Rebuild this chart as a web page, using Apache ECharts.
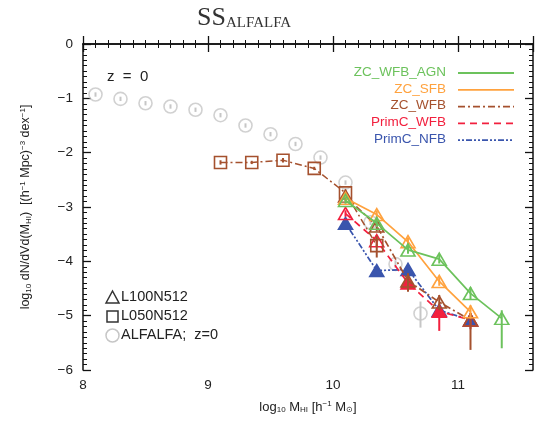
<!DOCTYPE html>
<html>
<head>
<meta charset="utf-8">
<script src="https://cdn.jsdelivr.net/npm/echarts@6/dist/echarts.min.js"></script>
<style>
  html, body { margin: 0; padding: 0; background: #fff; }
  #chart { width: 539px; height: 423px; }
</style>
</head>
<body>
<div id="chart"></div>
<script>
// HI mass function at z = 0: simulations vs. ALFALFA
const xTicks = [8, 9, 10, 11];
const yTicks = [0, -1, -2, -3, -4, -5, -6];

// ALFALFA observed points [log M, log phi, err low, err high]
const alfalfaX = [8.1, 8.3, 8.5, 8.7, 8.9, 9.1, 9.3, 9.5, 9.7, 9.9, 10.1, 10.3, 10.5, 10.7];
const alfalfaY = [-0.93, -1.01, -1.09, -1.15, -1.21, -1.31, -1.50, -1.66, -1.84, -2.09, -2.55, -3.28, -4.05, -4.96];
const alfalfaLo = [-0.97, -1.05, -1.13, -1.19, -1.25, -1.35, -1.54, -1.70, -1.88, -2.13, -2.59, -3.33, -4.12, -5.22];
const alfalfaHi = [-0.89, -0.97, -1.05, -1.11, -1.17, -1.27, -1.46, -1.62, -1.80, -2.05, -2.51, -3.23, -3.98, -4.74];

// L050N512 (ZC_WFB) squares
const sqX = [9.1, 9.35, 9.6, 9.85, 10.1, 10.35];
const sqY = [-2.18, -2.18, -2.14, -2.29, -2.74, -3.71];
const sqLo = [-2.22, -2.21, -2.18, -2.32, -2.80, -3.93];
const sqHi = [-2.14, -2.15, -2.10, -2.26, -2.68, -3.53];

// L100N512 runs (triangles)
const triX = [10.1, 10.35, 10.6, 10.85, 11.1, 11.35];
const greenY = [-2.88, -3.30, -3.79, -3.96, -4.59, -5.05];
const greenLo = [-2.94, -3.37, -3.86, -4.04, -4.70, -5.60];
const greenHi = [-2.82, -3.23, -3.72, -3.88, -4.48, -4.90];
const orangeY = [-2.84, -3.14, -3.64, -4.37, -4.93];
const orangeLo = [-2.90, -3.21, -3.71, -4.45, -5.05];
const orangeHi = [-2.78, -3.07, -3.57, -4.29, -4.81];
const brownY = [-2.80, -3.35, -4.36, -4.75, -5.08];
const brownLo = [-2.88, -3.45, -4.56, -4.90, -5.63];
const brownHi = [-2.72, -3.25, -4.22, -4.62, -4.95];
const redY = [-3.12, -3.62, -4.40, -4.92, -5.08];
const redLo = [-3.18, -3.72, -4.50, -5.28, -5.25];
const redHi = [-3.06, -3.52, -4.30, -4.80, -4.95];
const redFilled = [false, false, true, true, false];
const blueY = [-3.30, -4.17, -4.15, -4.90, -5.08];
const blueLo = [-3.36, -4.26, -4.24, -5.00, -5.18];
const blueHi = [-3.24, -4.08, -4.06, -4.80, -4.98];
const blueFilled = [true, true, true, true, true];

const legendNames = ['ZC_WFB_AGN', 'ZC_SFB', 'ZC_WFB', 'PrimC_WFB', 'PrimC_NFB'];

const C = {
  green: '#6cc25c',
  orange: '#ffa23e',
  brown: '#a5512e',
  red: '#f2203e',
  blue: '#3a55ad',
  gray: '#c6c6c6'
};
const STYLES = {
  green: 'solid',
  orange: 'solid',
  brown: [7, 3, 2, 3],
  red: [7, 5],
  blue: [2, 2, 2, 2, 6, 2]
};

const TRI = 'path://M0,10 L5,0 L10,10 Z';
const FONT = '"Liberation Sans", Arial, sans-serif';

function pairs(xs, ys) { return ys.map((y, i) => [xs[i], y]); }
function bars(xs, lo, hi) { return lo.map((l, i) => [xs[i], l, hi[i]]); }

function errSeries(data, color, z) {
  return {
    type: 'custom',
    z: z,
    silent: true,
    data: data,
    renderItem: function (params, api) {
      const p1 = api.coord([api.value(0), api.value(1)]);
      const p2 = api.coord([api.value(0), api.value(2)]);
      return {
        type: 'line',
        shape: { x1: p1[0], y1: p1[1], x2: p2[0], y2: p2[1] },
        style: { stroke: color, lineWidth: 2 }
      };
    }
  };
}

function triSeries(name, ys, key, filled, z) {
  const color = C[key];
  return {
    name: name,
    type: 'line',
    z: z,
    data: ys.map((y, i) => ({
      value: [triX[i], y],
      itemStyle: {
        color: filled && filled[i] ? color : 'rgba(255,255,255,0)',
        borderColor: color,
        borderWidth: 1.6
      }
    })),
    symbol: TRI,
    symbolSize: [14, 12],
    lineStyle: { color: color, width: 1.7, type: STYLES[key] },
    emphasis: { disabled: true }
  };
}

const series = [
  // ALFALFA
  errSeries(bars(alfalfaX, alfalfaLo, alfalfaHi), C.gray, 1),
  {
    name: 'ALFALFA',
    type: 'scatter',
    z: 2,
    data: pairs(alfalfaX, alfalfaY),
    symbol: 'circle',
    symbolSize: 13,
    itemStyle: { color: 'rgba(255,255,255,0)', borderColor: C.gray, borderWidth: 1.6 }
  },
  errSeries(bars(triX, blueLo, blueHi), C.blue, 3),
  triSeries('PrimC_NFB', blueY, 'blue', blueFilled, 4),
  errSeries(bars(triX, redLo, redHi), C.red, 5),
  triSeries('PrimC_WFB', redY, 'red', redFilled, 6),
  // L050N512 squares
  errSeries(bars(sqX, sqLo, sqHi), C.brown, 7),
  {
    name: 'L050N512',
    type: 'line',
    z: 8,
    data: pairs(sqX, sqY),
    symbol: 'rect',
    symbolSize: 12,
    itemStyle: { color: 'rgba(255,255,255,0)', borderColor: C.brown, borderWidth: 1.6 },
    lineStyle: { color: C.brown, width: 1.5, type: STYLES.brown }
  },
  errSeries(bars(triX, brownLo, brownHi), C.brown, 9),
  triSeries('ZC_WFB', brownY, 'brown', null, 10),
  errSeries(bars(triX, orangeLo, orangeHi), C.orange, 11),
  triSeries('ZC_SFB', orangeY, 'orange', null, 12),
  errSeries(bars(triX, greenLo, greenHi), C.green, 13),
  triSeries('ZC_WFB_AGN', greenY, 'green', null, 14)
];

// top-right legend: coloured names with line samples
const legendKeys = ['green', 'orange', 'brown', 'red', 'blue'];
const graphics = [];
legendNames.forEach((n, i) => {
  const y = 73 + i * 16.8;
  const key = legendKeys[i];
  graphics.push({
    type: 'text', right: 539 - 446, top: y - 8,
    style: { text: n, fill: C[key], font: '13.5px ' + FONT, textAlign: 'right' }
  });
  graphics.push({
    type: 'line',
    shape: { x1: 458, y1: y, x2: 514, y2: y },
    style: { stroke: C[key], lineWidth: 1.8, lineDash: STYLES[key] === 'solid' ? null : STYLES[key] }
  });
});
// marker key, lower left
const keyFont = '14.5px ' + FONT;
graphics.push(
  { type: 'polygon', shape: { points: [[106, 303], [112.5, 291], [119, 303]] }, style: { fill: 'none', stroke: '#333', lineWidth: 1.5 } },
  { type: 'text', left: 121, top: 289, style: { text: 'L100N512', fill: '#222', font: keyFont } },
  { type: 'rect', shape: { x: 107, y: 311, width: 11, height: 11 }, style: { fill: 'none', stroke: '#333', lineWidth: 1.5 } },
  { type: 'text', left: 121, top: 308, style: { text: 'L050N512', fill: '#222', font: keyFont } },
  { type: 'circle', shape: { cx: 112.5, cy: 335.5, r: 6.5 }, style: { fill: 'none', stroke: C.gray, lineWidth: 1.5 } },
  { type: 'text', left: 121, top: 327, style: { text: 'ALFALFA;  z=0', fill: '#222', font: keyFont } },
  { type: 'text', left: 107, top: 69, style: { text: 'z  =  0', fill: '#222', font: '15px ' + FONT } },
  // title
  {
    type: 'text', left: 197, top: 5,
    style: {
      text: '{a|SS}{b|ALFALFA}',
      rich: {
        a: { font: '26px "Liberation Serif", "DejaVu Serif", serif', fill: '#333' },
        b: { font: '15px "Liberation Serif", "DejaVu Serif", serif', fill: '#333', padding: [10, 0, 0, 0], verticalAlign: 'bottom' }
      }
    }
  }
);

const axisFont = { color: '#222', fontSize: 13.5, fontFamily: FONT };
const lineCommon = { show: true, lineStyle: { color: '#111', width: 1.5 } };
const tickCommon = { show: true, inside: true, length: 8, lineStyle: { color: '#111', width: 1.3 } };
const minorCommon = { show: true, splitNumber: 10, length: 4, lineStyle: { color: '#111', width: 1 } };
const richLabel = (n) => ({
  n: { fontSize: n, color: '#222', fontFamily: FONT },
  s: { fontSize: 8, color: '#222', padding: [6, 0, 0, 0], fontFamily: FONT },
  u: { fontSize: 8, color: '#222', padding: [0, 0, 6, 0], fontFamily: FONT }
});

const option = {
  animation: false,
  backgroundColor: '#fff',
  grid: { left: 83, right: 6, top: 44, bottom: 53, containLabel: false },
  xAxis: [
    {
      type: 'value', min: 8, max: 11.6, interval: 1,
      axisLine: lineCommon, axisTick: tickCommon, minorTick: minorCommon,
      splitLine: { show: false },
      axisLabel: Object.assign({ margin: 8, showMaxLabel: false, formatter: v => xTicks.includes(v) ? String(v) : '' }, axisFont),
      name: '{n|log}{s|10}{n| M}{s|HI}{n| [h}{u|−1}{n| M}{s|⊙}{n|]}',
      nameLocation: 'middle', nameGap: 30,
      nameTextStyle: { rich: richLabel(13) }
    },
    {
      type: 'value', min: 8, max: 11.6, interval: 1, position: 'top',
      axisLine: lineCommon, axisTick: tickCommon, minorTick: minorCommon,
      splitLine: { show: false },
      axisLabel: { show: false }
    }
  ],
  yAxis: [
    {
      type: 'value', min: -6, max: 0, interval: 1,
      axisLine: lineCommon, axisTick: tickCommon, minorTick: minorCommon,
      splitLine: { show: false },
      axisLabel: Object.assign({ margin: 10, formatter: v => yTicks.includes(v) ? (v < 0 ? '−' + Math.abs(v) : String(v)) : '' }, axisFont),
      name: '{n|log}{s|10}{n| dN/dVd(M}{s|HI}{n|)  [(h}{u|−1}{n| Mpc)}{u|−3}{n| dex}{u|−1}{n|]}',
      nameLocation: 'middle', nameGap: 50, nameRotate: 90,
      nameTextStyle: { rich: richLabel(12.5) }
    },
    {
      type: 'value', min: -6, max: 0, interval: 1, position: 'right',
      axisLine: lineCommon, axisTick: tickCommon, minorTick: minorCommon,
      splitLine: { show: false },
      axisLabel: { show: false }
    }
  ],
  series: series,
  graphic: graphics
};

const chart = echarts.init(document.getElementById('chart'), null, { renderer: 'canvas' });
chart.setOption(option);
</script>
</body>
</html>
